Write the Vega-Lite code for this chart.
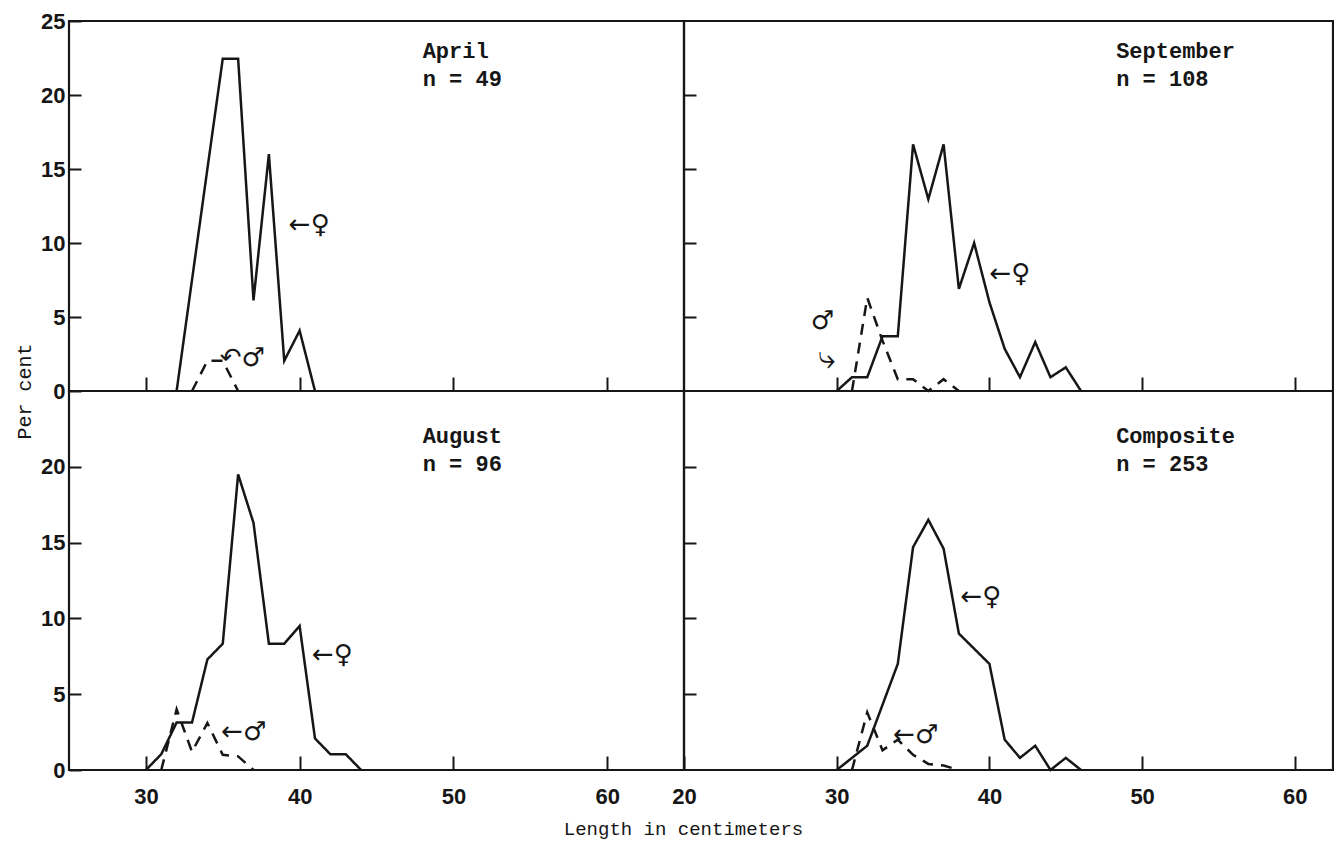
{
  "$schema": "https://vega.github.io/schema/vega-lite/v6.json",
  "background": "white",
  "padding": {"left": 12, "top": 8, "right": 4, "bottom": 4},
  "columns": 2,
  "spacing": 0,
  "bounds": "flush",
  "align": "each",
  "datasets": {
    "freq": [
      {"panel": "April", "sex": "female", "length": 32, "pct": 0},
      {"panel": "April", "sex": "female", "length": 33, "pct": 7.5},
      {"panel": "April", "sex": "female", "length": 34, "pct": 15.0},
      {"panel": "April", "sex": "female", "length": 35, "pct": 22.45},
      {"panel": "April", "sex": "female", "length": 36, "pct": 22.45},
      {"panel": "April", "sex": "female", "length": 37, "pct": 6.12},
      {"panel": "April", "sex": "female", "length": 38, "pct": 16.0},
      {"panel": "April", "sex": "female", "length": 39, "pct": 2.04},
      {"panel": "April", "sex": "female", "length": 40, "pct": 4.08},
      {"panel": "April", "sex": "female", "length": 41, "pct": 0},
      {"panel": "April", "sex": "male", "length": 33, "pct": 0},
      {"panel": "April", "sex": "male", "length": 34, "pct": 2.04},
      {"panel": "April", "sex": "male", "length": 35, "pct": 2.04},
      {"panel": "April", "sex": "male", "length": 36, "pct": 0},

      {"panel": "September", "sex": "female", "length": 30, "pct": 0},
      {"panel": "September", "sex": "female", "length": 31, "pct": 0.93},
      {"panel": "September", "sex": "female", "length": 32, "pct": 0.93},
      {"panel": "September", "sex": "female", "length": 33, "pct": 3.7},
      {"panel": "September", "sex": "female", "length": 34, "pct": 3.7},
      {"panel": "September", "sex": "female", "length": 35, "pct": 16.67},
      {"panel": "September", "sex": "female", "length": 36, "pct": 12.96},
      {"panel": "September", "sex": "female", "length": 37, "pct": 16.67},
      {"panel": "September", "sex": "female", "length": 38, "pct": 6.9},
      {"panel": "September", "sex": "female", "length": 39, "pct": 10.0},
      {"panel": "September", "sex": "female", "length": 40, "pct": 6.0},
      {"panel": "September", "sex": "female", "length": 41, "pct": 2.85},
      {"panel": "September", "sex": "female", "length": 42, "pct": 0.93},
      {"panel": "September", "sex": "female", "length": 43, "pct": 3.3},
      {"panel": "September", "sex": "female", "length": 44, "pct": 0.93},
      {"panel": "September", "sex": "female", "length": 45, "pct": 1.6},
      {"panel": "September", "sex": "female", "length": 46, "pct": 0},
      {"panel": "September", "sex": "male", "length": 31, "pct": 0},
      {"panel": "September", "sex": "male", "length": 32, "pct": 6.3},
      {"panel": "September", "sex": "male", "length": 33, "pct": 3.4},
      {"panel": "September", "sex": "male", "length": 34, "pct": 0.8},
      {"panel": "September", "sex": "male", "length": 35, "pct": 0.8},
      {"panel": "September", "sex": "male", "length": 36, "pct": 0},
      {"panel": "September", "sex": "male", "length": 37, "pct": 0.8},
      {"panel": "September", "sex": "male", "length": 38, "pct": 0},

      {"panel": "August", "sex": "female", "length": 30, "pct": 0},
      {"panel": "August", "sex": "female", "length": 31, "pct": 1.04},
      {"panel": "August", "sex": "female", "length": 32, "pct": 3.13},
      {"panel": "August", "sex": "female", "length": 33, "pct": 3.13},
      {"panel": "August", "sex": "female", "length": 34, "pct": 7.29},
      {"panel": "August", "sex": "female", "length": 35, "pct": 8.33},
      {"panel": "August", "sex": "female", "length": 36, "pct": 19.5},
      {"panel": "August", "sex": "female", "length": 37, "pct": 16.3},
      {"panel": "August", "sex": "female", "length": 38, "pct": 8.33},
      {"panel": "August", "sex": "female", "length": 39, "pct": 8.33},
      {"panel": "August", "sex": "female", "length": 40, "pct": 9.5},
      {"panel": "August", "sex": "female", "length": 41, "pct": 2.08},
      {"panel": "August", "sex": "female", "length": 42, "pct": 1.04},
      {"panel": "August", "sex": "female", "length": 43, "pct": 1.04},
      {"panel": "August", "sex": "female", "length": 44, "pct": 0},
      {"panel": "August", "sex": "male", "length": 31, "pct": 0},
      {"panel": "August", "sex": "male", "length": 32, "pct": 4.0},
      {"panel": "August", "sex": "male", "length": 33, "pct": 1.2},
      {"panel": "August", "sex": "male", "length": 34, "pct": 3.1},
      {"panel": "August", "sex": "male", "length": 35, "pct": 1.0},
      {"panel": "August", "sex": "male", "length": 36, "pct": 0.9},
      {"panel": "August", "sex": "male", "length": 37, "pct": 0},

      {"panel": "Composite", "sex": "female", "length": 30, "pct": 0},
      {"panel": "Composite", "sex": "female", "length": 31, "pct": 0.8},
      {"panel": "Composite", "sex": "female", "length": 32, "pct": 1.6},
      {"panel": "Composite", "sex": "female", "length": 33, "pct": 4.3},
      {"panel": "Composite", "sex": "female", "length": 34, "pct": 7.0},
      {"panel": "Composite", "sex": "female", "length": 35, "pct": 14.7},
      {"panel": "Composite", "sex": "female", "length": 36, "pct": 16.5},
      {"panel": "Composite", "sex": "female", "length": 37, "pct": 14.6},
      {"panel": "Composite", "sex": "female", "length": 38, "pct": 9.0},
      {"panel": "Composite", "sex": "female", "length": 39, "pct": 8.0},
      {"panel": "Composite", "sex": "female", "length": 40, "pct": 7.0},
      {"panel": "Composite", "sex": "female", "length": 41, "pct": 2.0},
      {"panel": "Composite", "sex": "female", "length": 42, "pct": 0.8},
      {"panel": "Composite", "sex": "female", "length": 43, "pct": 1.6},
      {"panel": "Composite", "sex": "female", "length": 44, "pct": 0},
      {"panel": "Composite", "sex": "female", "length": 45, "pct": 0.8},
      {"panel": "Composite", "sex": "female", "length": 46, "pct": 0},
      {"panel": "Composite", "sex": "male", "length": 31, "pct": 0},
      {"panel": "Composite", "sex": "male", "length": 32, "pct": 3.8},
      {"panel": "Composite", "sex": "male", "length": 33, "pct": 1.3},
      {"panel": "Composite", "sex": "male", "length": 34, "pct": 2.0},
      {"panel": "Composite", "sex": "male", "length": 35, "pct": 1.0},
      {"panel": "Composite", "sex": "male", "length": 36, "pct": 0.4},
      {"panel": "Composite", "sex": "male", "length": 37, "pct": 0.3},
      {"panel": "Composite", "sex": "male", "length": 38, "pct": 0}
    ]
  },
  "config": {
    "view": {"stroke": "#161616", "strokeWidth": 2.2},
    "axis": {
      "grid": false,
      "domain": false,
      "tickColor": "#161616",
      "tickWidth": 2,
      "labelFont": "Liberation Sans",
      "labelFontSize": 22,
      "labelFontWeight": "bold",
      "labelColor": "#161616",
      "labelFlush": false,
      "labelOverlap": false,
      "titleColor": "#161616",
      "titleFont": "Liberation Mono",
      "titleFontSize": 19,
      "titleFontWeight": "normal"
    },
    "axisX": {"tickSize": -14, "labelPadding": 30},
    "axisY": {"tickSize": -12, "labelPadding": 16},
    "text": {"font": "Liberation Mono", "fontSize": 22, "fontWeight": "bold", "color": "#161616", "align": "left", "baseline": "alphabetic", "lineHeight": 28},
    "line": {"color": "#161616", "strokeWidth": 2.5}
  },
  "concat": [
    {
      "width": 615,
      "height": 370,
      "layer": [
        {
          "data": {"name": "freq"},
          "transform": [{"filter": "datum.panel === 'April'"}],
          "mark": {"type": "line"},
          "encoding": {
            "x": {"field": "length", "type": "quantitative", "scale": {"domain": [25, 65], "nice": false, "zero": false},
                  "axis": {"values": [30, 40, 50, 60], "labels": false, "title": null}},
            "y": {"field": "pct", "type": "quantitative", "scale": {"domain": [0, 25], "nice": false},
                  "axis": {"values": [0, 5, 10, 15, 20, 25], "title": "Per cent", "titleFontSize": 20, "titleX": -45, "titleY": 370, "titleAngle": -90, "titleAlign": "center", "titleBaseline": "middle"}},
            "strokeDash": {"field": "sex", "type": "nominal", "scale": {"domain": ["female", "male"], "range": [[1, 0], [11, 8]]}, "legend": null}
          }
        },
        {
          "data": {"values": [{}]},
          "mark": {"type": "text"},
          "encoding": {
            "x": {"datum": 48, "type": "quantitative"},
            "y": {"datum": 22.5, "type": "quantitative"},
            "text": {"value": ["April", "n = 49"]}
          }
        },
        {
          "data": {"values": [{}]},
          "mark": {"type": "text", "font": "DejaVu Sans", "fontSize": 26, "fontWeight": "normal", "baseline": "middle"},
          "encoding": {
            "x": {"datum": 39.3, "type": "quantitative"},
            "y": {"datum": 11.2, "type": "quantitative"},
            "text": {"value": "←♀"}
          }
        },
        {
          "data": {"values": [{}]},
          "mark": {"type": "text", "font": "DejaVu Sans", "fontSize": 26, "fontWeight": "normal", "baseline": "middle"},
          "encoding": {
            "x": {"datum": 34.8, "type": "quantitative"},
            "y": {"datum": 2.2, "type": "quantitative"},
            "text": {"value": "↶♂"}
          }
        }
      ]
    },
    {
      "width": 649,
      "height": 370,
      "layer": [
        {
          "data": {"name": "freq"},
          "transform": [{"filter": "datum.panel === 'September'"}],
          "mark": {"type": "line"},
          "encoding": {
            "x": {"field": "length", "type": "quantitative", "scale": {"domain": [20, 62.5], "nice": false, "zero": false},
                  "axis": {"values": [30, 40, 50, 60], "labels": false, "title": null}},
            "y": {"field": "pct", "type": "quantitative", "scale": {"domain": [0, 25], "nice": false},
                  "axis": {"values": [5, 10, 15, 20], "labels": false, "title": null}},
            "strokeDash": {"field": "sex", "type": "nominal", "scale": {"domain": ["female", "male"], "range": [[1, 0], [11, 8]]}, "legend": null}
          }
        },
        {
          "data": {"values": [{}]},
          "mark": {"type": "text"},
          "encoding": {
            "x": {"datum": 48.3, "type": "quantitative"},
            "y": {"datum": 22.5, "type": "quantitative"},
            "text": {"value": ["September", "n = 108"]}
          }
        },
        {
          "data": {"values": [{}]},
          "mark": {"type": "text", "font": "DejaVu Sans", "fontSize": 26, "fontWeight": "normal", "baseline": "middle"},
          "encoding": {
            "x": {"datum": 40.0, "type": "quantitative"},
            "y": {"datum": 7.9, "type": "quantitative"},
            "text": {"value": "←♀"}
          }
        },
        {
          "data": {"values": [{}]},
          "mark": {"type": "text", "font": "DejaVu Sans", "fontSize": 26, "fontWeight": "normal", "baseline": "middle"},
          "encoding": {
            "x": {"datum": 28.3, "type": "quantitative"},
            "y": {"datum": 4.7, "type": "quantitative"},
            "text": {"value": "♂"}
          }
        },
        {
          "data": {"values": [{}]},
          "mark": {"type": "text", "font": "DejaVu Sans", "fontSize": 32, "fontWeight": "normal", "baseline": "middle"},
          "encoding": {
            "x": {"datum": 28.8, "type": "quantitative"},
            "y": {"datum": 2.2, "type": "quantitative"},
            "text": {"value": "⤷"}
          }
        }
      ]
    },
    {
      "width": 615,
      "height": 379,
      "layer": [
        {
          "data": {"name": "freq"},
          "transform": [{"filter": "datum.panel === 'August'"}],
          "mark": {"type": "line"},
          "encoding": {
            "x": {"field": "length", "type": "quantitative", "scale": {"domain": [25, 65], "nice": false, "zero": false},
                  "axis": {"values": [30, 40, 50, 60], "title": "Length in centimeters", "titleX": 614, "titleY": 58, "titleAlign": "center", "titleBaseline": "middle"}},
            "y": {"field": "pct", "type": "quantitative", "scale": {"domain": [0, 25], "nice": false},
                  "axis": {"values": [0, 5, 10, 15, 20], "title": null}},
            "strokeDash": {"field": "sex", "type": "nominal", "scale": {"domain": ["female", "male"], "range": [[1, 0], [11, 8]]}, "legend": null}
          }
        },
        {
          "data": {"values": [{}]},
          "mark": {"type": "text"},
          "encoding": {
            "x": {"datum": 48, "type": "quantitative"},
            "y": {"datum": 21.6, "type": "quantitative"},
            "text": {"value": ["August", "n = 96"]}
          }
        },
        {
          "data": {"values": [{}]},
          "mark": {"type": "text", "font": "DejaVu Sans", "fontSize": 26, "fontWeight": "normal", "baseline": "middle"},
          "encoding": {
            "x": {"datum": 40.8, "type": "quantitative"},
            "y": {"datum": 7.6, "type": "quantitative"},
            "text": {"value": "←♀"}
          }
        },
        {
          "data": {"values": [{}]},
          "mark": {"type": "text", "font": "DejaVu Sans", "fontSize": 26, "fontWeight": "normal", "baseline": "middle"},
          "encoding": {
            "x": {"datum": 34.9, "type": "quantitative"},
            "y": {"datum": 2.5, "type": "quantitative"},
            "text": {"value": "←♂"}
          }
        }
      ]
    },
    {
      "width": 649,
      "height": 379,
      "layer": [
        {
          "data": {"name": "freq"},
          "transform": [{"filter": "datum.panel === 'Composite'"}],
          "mark": {"type": "line"},
          "encoding": {
            "x": {"field": "length", "type": "quantitative", "scale": {"domain": [20, 62.5], "nice": false, "zero": false},
                  "axis": {"values": [20, 30, 40, 50, 60], "title": null}},
            "y": {"field": "pct", "type": "quantitative", "scale": {"domain": [0, 25], "nice": false},
                  "axis": {"values": [5, 10, 15, 20], "labels": false, "title": null}},
            "strokeDash": {"field": "sex", "type": "nominal", "scale": {"domain": ["female", "male"], "range": [[1, 0], [11, 8]]}, "legend": null}
          }
        },
        {
          "data": {"values": [{}]},
          "mark": {"type": "text"},
          "encoding": {
            "x": {"datum": 48.3, "type": "quantitative"},
            "y": {"datum": 21.6, "type": "quantitative"},
            "text": {"value": ["Composite", "n = 253"]}
          }
        },
        {
          "data": {"values": [{}]},
          "mark": {"type": "text", "font": "DejaVu Sans", "fontSize": 26, "fontWeight": "normal", "baseline": "middle"},
          "encoding": {
            "x": {"datum": 38.1, "type": "quantitative"},
            "y": {"datum": 11.4, "type": "quantitative"},
            "text": {"value": "←♀"}
          }
        },
        {
          "data": {"values": [{}]},
          "mark": {"type": "text", "font": "DejaVu Sans", "fontSize": 26, "fontWeight": "normal", "baseline": "middle"},
          "encoding": {
            "x": {"datum": 33.7, "type": "quantitative"},
            "y": {"datum": 2.3, "type": "quantitative"},
            "text": {"value": "←♂"}
          }
        }
      ]
    }
  ]
}
